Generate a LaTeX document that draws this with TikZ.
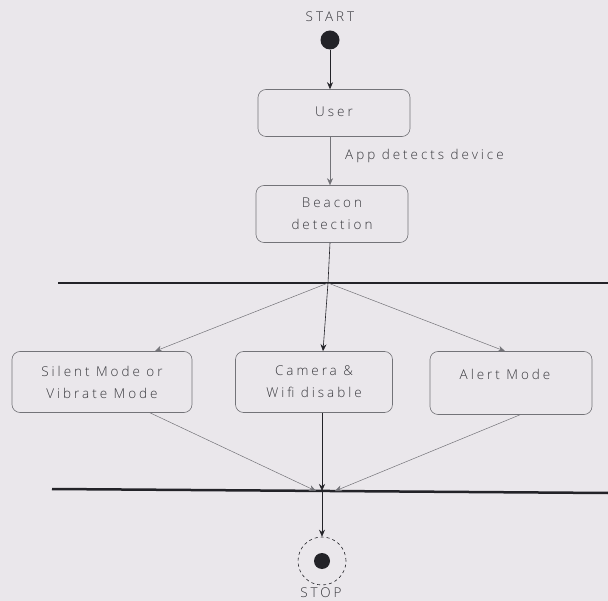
\documentclass[tikz,border=0pt]{standalone}
\usepackage{fontspec}
\setmainfont[LetterSpace=22]{Open Sans Light}
\usetikzlibrary{arrows.meta}
\definecolor{paper}{RGB}{234,231,235}
\definecolor{ink}{RGB}{35,35,40}
\definecolor{boxline}{RGB}{115,115,120}
\definecolor{txt}{RGB}{55,55,60}
\begin{document}
\begin{tikzpicture}[x=1pt,y=-1pt,
  act/.style={draw=boxline,line width=0.6pt,rounded corners=8pt,fill=paper,
    text=txt,font=\fontsize{13.5}{22}\selectfont,align=center,inner sep=0pt},
  lbl/.style={text=txt,font=\fontsize{13.5}{15}\selectfont,inner sep=0pt},
  flow/.style={draw=ink,line width=0.6pt,-{Stealth[length=7pt,width=6pt]}},
  thin/.style={draw=boxline,line width=0.5pt,-{Stealth[length=7pt,width=6pt]}},
  bar/.style={draw=ink,line width=2.5pt}]
\fill[paper] (0,0) rectangle (608,601);
\useasboundingbox (0,0) rectangle (608,601);
% start
\node[lbl] (startlbl) at (330,17) {START};
\node[fill=ink,circle,minimum size=19pt,inner sep=0pt] (start) at (330,40) {};
% boxes
\node[act,minimum width=152pt,minimum height=47pt] (user) at (334,113) {\raisebox{3pt}{User}};
\node[act,minimum width=152pt,minimum height=57pt] (beacon) at (332,214) {Beacon\\detection};
\node[lbl,anchor=west] (applbl) at (345,156) {App detects device};
% top bar
\coordinate (b1l) at (58,283);
\coordinate (b1r) at (608,283);
\draw[bar] (b1l) -- (b1r);
\coordinate (fork) at (328,283);
\node[act,minimum width=180pt,minimum height=61pt] (silent) at (102,382) {Silent Mode or\\Vibrate Mode};
\node[act,minimum width=157pt,minimum height=61pt] (camera) at (314,382) {Camera \&\\Wifi disable};
\node[act,minimum width=162pt,minimum height=63pt] (alert) at (511,383) {};
\node[lbl] (alertlbl) at (505,374) {Alert Mode};
% bottom bar
\coordinate (b2l) at (52,489);
\coordinate (b2r) at (608,493);
\draw[bar] (b2l) -- (b2r);
\coordinate (j1) at (316,491);
\coordinate (j2) at (322,491);
\coordinate (j3) at (335,491);
% stop
\node[draw=ink,dashed,line width=0.6pt,circle,minimum size=48pt,inner sep=0pt] (stop) at (322,561) {};
\node[fill=ink,circle,minimum size=16pt,inner sep=0pt] (stopdot) at (322,561) {};
\node[lbl] (stoplbl) at (321,593) {STOP};
% connectors
\draw[flow] (start) -- (start |- user.north);
\draw[thin] (user.south -| start) -- (start |- beacon.north);
\draw[ink,line width=0.6pt] (beacon.south -| start) -- (fork);
\draw[thin] (fork) -- (silent.north -| 155,0);
\draw[flow] (fork) -- (camera.north -| 323,0);
\draw[thin] (fork) -- (alert.north -| 505,0);
\draw[thin] (silent.south -| 150,0) -- (j1);
\draw[flow] (camera.south -| 322,0) -- (j2);
\draw[thin] (alert.south -| 520,0) -- (j3);
\draw[flow] (j2) -- (stop);
\end{tikzpicture}
\end{document}
